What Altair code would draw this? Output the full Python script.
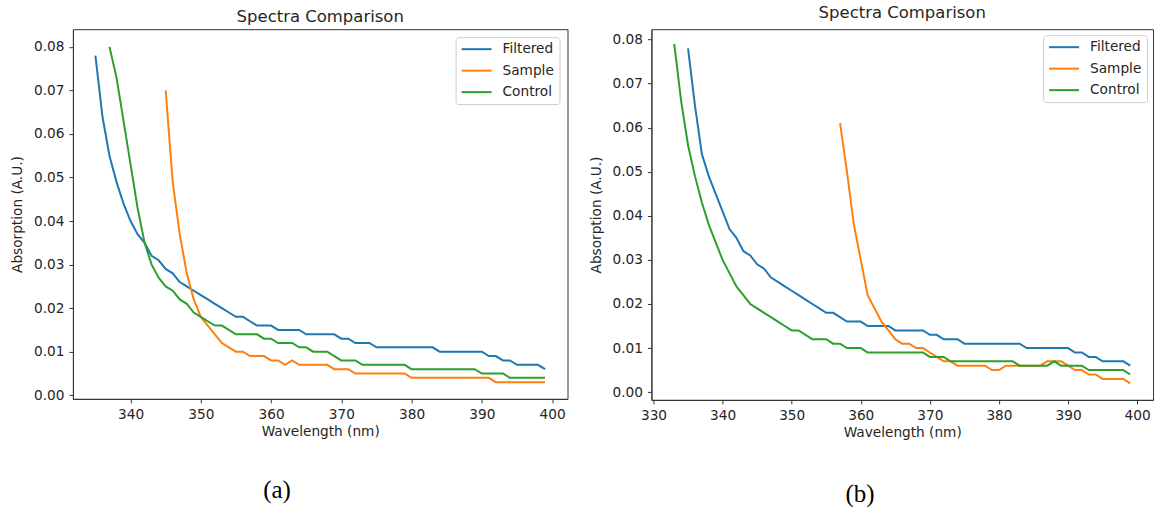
import altair as alt
import pandas as pd

# ---------------- data ----------------
SERIES = ["Filtered", "Sample", "Control"]
COLORS = ["#1f77b4", "#ff7f0e", "#2ca02c"]

# panel (a)
a_filtered_x = list(range(335, 400))
a_filtered_y = [0.078, 0.064, 0.055, 0.049, 0.044, 0.040, 0.037, 0.035, 0.032, 0.031,
                0.029, 0.028, 0.026, 0.025, 0.024, 0.023, 0.022, 0.021, 0.020, 0.019,
                0.018, 0.018, 0.017, 0.016, 0.016, 0.016, 0.015, 0.015, 0.015, 0.015,
                0.014, 0.014, 0.014, 0.014, 0.014, 0.013, 0.013, 0.012, 0.012, 0.012,
                0.011, 0.011, 0.011, 0.011, 0.011, 0.011, 0.011, 0.011, 0.011, 0.010,
                0.010, 0.010, 0.010, 0.010, 0.010, 0.010, 0.009, 0.009, 0.008, 0.008,
                0.007, 0.007, 0.007, 0.007, 0.006]
a_sample_x = list(range(345, 400))
a_sample_y = [0.070, 0.049, 0.037, 0.028, 0.022, 0.018, 0.016, 0.014, 0.012, 0.011,
              0.010, 0.010, 0.009, 0.009, 0.009, 0.008, 0.008, 0.007, 0.008, 0.007,
              0.007, 0.007, 0.007, 0.007, 0.006, 0.006, 0.006, 0.005, 0.005, 0.005,
              0.005, 0.005, 0.005, 0.005, 0.005, 0.004, 0.004, 0.004, 0.004, 0.004,
              0.004, 0.004, 0.004, 0.004, 0.004, 0.004, 0.004, 0.003, 0.003, 0.003,
              0.003, 0.003, 0.003, 0.003, 0.003]
a_control_x = list(range(337, 400))
a_control_y = [0.080, 0.073, 0.063, 0.053, 0.043, 0.035, 0.030, 0.027, 0.025, 0.024,
               0.022, 0.021, 0.019, 0.018, 0.017, 0.016, 0.016, 0.015, 0.014, 0.014,
               0.014, 0.014, 0.013, 0.013, 0.012, 0.012, 0.012, 0.011, 0.011, 0.010,
               0.010, 0.010, 0.009, 0.008, 0.008, 0.008, 0.007, 0.007, 0.007, 0.007,
               0.007, 0.007, 0.007, 0.006, 0.006, 0.006, 0.006, 0.006, 0.006, 0.006,
               0.006, 0.006, 0.006, 0.005, 0.005, 0.005, 0.005, 0.004, 0.004, 0.004,
               0.004, 0.004, 0.004]

# panel (b)
b_filtered_x = list(range(335, 400))
b_filtered_y = [0.078, 0.065, 0.054, 0.049, 0.045, 0.041, 0.037, 0.035, 0.032, 0.031,
                0.029, 0.028, 0.026, 0.025, 0.024, 0.023, 0.022, 0.021, 0.020, 0.019,
                0.018, 0.018, 0.017, 0.016, 0.016, 0.016, 0.015, 0.015, 0.015, 0.015,
                0.014, 0.014, 0.014, 0.014, 0.014, 0.013, 0.013, 0.012, 0.012, 0.012,
                0.011, 0.011, 0.011, 0.011, 0.011, 0.011, 0.011, 0.011, 0.011, 0.010,
                0.010, 0.010, 0.010, 0.010, 0.010, 0.010, 0.009, 0.009, 0.008, 0.008,
                0.007, 0.007, 0.007, 0.007, 0.006]
b_sample_x = list(range(357, 400))
b_sample_y = [0.061, 0.050, 0.038, 0.030, 0.022, 0.019, 0.016, 0.014, 0.012, 0.011,
              0.011, 0.010, 0.010, 0.009, 0.008, 0.007, 0.007, 0.006, 0.006, 0.006,
              0.006, 0.006, 0.005, 0.005, 0.006, 0.006, 0.006, 0.006, 0.006, 0.006,
              0.007, 0.007, 0.007, 0.006, 0.005, 0.005, 0.004, 0.004, 0.003, 0.003,
              0.003, 0.003, 0.002]
b_control_x = list(range(333, 400))
b_control_y = [0.079, 0.066, 0.056, 0.049, 0.043, 0.038, 0.034, 0.030, 0.027, 0.024,
               0.022, 0.020, 0.019, 0.018, 0.017, 0.016, 0.015, 0.014, 0.014, 0.013,
               0.012, 0.012, 0.012, 0.011, 0.011, 0.010, 0.010, 0.010, 0.009, 0.009,
               0.009, 0.009, 0.009, 0.009, 0.009, 0.009, 0.009, 0.008, 0.008, 0.008,
               0.007, 0.007, 0.007, 0.007, 0.007, 0.007, 0.007, 0.007, 0.007, 0.007,
               0.006, 0.006, 0.006, 0.006, 0.006, 0.007, 0.006, 0.006, 0.006, 0.006,
               0.005, 0.005, 0.005, 0.005, 0.005, 0.005, 0.004]

a_xticks = [340, 350, 360, 370, 380, 390, 400]
b_xticks = [330, 340, 350, 360, 370, 380, 390, 400]
yticks = [0.00, 0.01, 0.02, 0.03, 0.04, 0.05, 0.06, 0.07, 0.08]


def frame(xs, ys, names):
    rows = []
    for x, y, n in zip(xs, ys, names):
        for xx, yy in zip(x, y):
            rows.append({"wl": xx, "abs": yy, "series": n, "order": SERIES.index(n)})
    return pd.DataFrame(rows)


df_a = frame([a_filtered_x, a_sample_x, a_control_x],
             [a_filtered_y, a_sample_y, a_control_y], SERIES)
df_b = frame([b_filtered_x, b_sample_x, b_control_x],
             [b_filtered_y, b_sample_y, b_control_y], SERIES)

FONT = "DejaVu Sans"
TXT = "#262626"


def panel(df, xdom, ydom, xticks, w, h, title_offset, legend_offset):
    return alt.Chart(df).mark_line(strokeWidth=2, clip=True).encode(
        x=alt.X("wl:Q", title="Wavelength (nm)",
                scale=alt.Scale(domain=xdom, nice=False, zero=False),
                axis=alt.Axis(values=xticks, format="d")),
        y=alt.Y("abs:Q", title="Absorption (A.U.)",
                scale=alt.Scale(domain=ydom, nice=False, zero=False),
                axis=alt.Axis(values=yticks, format=".2f")),
        color=alt.Color("series:N", title=None,
                        scale=alt.Scale(domain=SERIES, range=COLORS),
                        legend=alt.Legend(orient="top-right", offset=legend_offset)),
        order="order:Q",
    ).properties(
        width=w, height=h,
        title=alt.TitleParams("Spectra Comparison", offset=title_offset),
    )


pa = panel(df_a, [331.8, 402.2], [-0.00083, 0.08406], a_xticks, 495, 370, 4, 8)
pb = panel(df_b, [329.7, 402.3], [-0.00175, 0.08233], b_xticks, 502, 371, 8, 6)

cap = dict(orient="bottom", anchor="middle", font="Liberation Serif", fontSize=25,
           fontWeight="normal", color="black")
ca = alt.vconcat(pa, title=alt.TitleParams("(a)", offset=39, dx=-12, **cap)
                 ).resolve_legend(color="independent")
cb = alt.vconcat(pb, title=alt.TitleParams("(b)", offset=42, dx=-11, **cap)
                 ).resolve_legend(color="independent")

chart = alt.hconcat(ca, cb, spacing=20).resolve_legend(
    color="independent"
).resolve_scale(color="independent").properties(
    padding={"left": 10, "top": 4, "right": 4, "bottom": 0},
    background="white",
).configure_view(
    stroke="#333333", strokeWidth=1,
).configure_axis(
    domainColor="#333333", tickColor="#333333", tickSize=4,
    labelFont=FONT, labelFontSize=13.7, labelColor=TXT, labelPadding=5,
    titleFont=FONT, titleFontSize=13.7, titleFontWeight="normal", titleColor=TXT,
    grid=False,
).configure_axisX(titlePadding=3).configure_axisY(titlePadding=9).configure_title(
    font=FONT, fontSize=16.5, fontWeight="normal", color=TXT,
).configure_legend(
    labelFont=FONT, labelFontSize=13.7, labelColor=TXT,
    symbolType="M-1,0H4", symbolSize=144, symbolStrokeWidth=2,
    labelOffset=28, rowPadding=7.5,
    strokeColor="#cccccc", fillColor="white", cornerRadius=3, padding=5,
)

chart.save("out.html", embed_options={"renderer": "svg", "actions": False})
